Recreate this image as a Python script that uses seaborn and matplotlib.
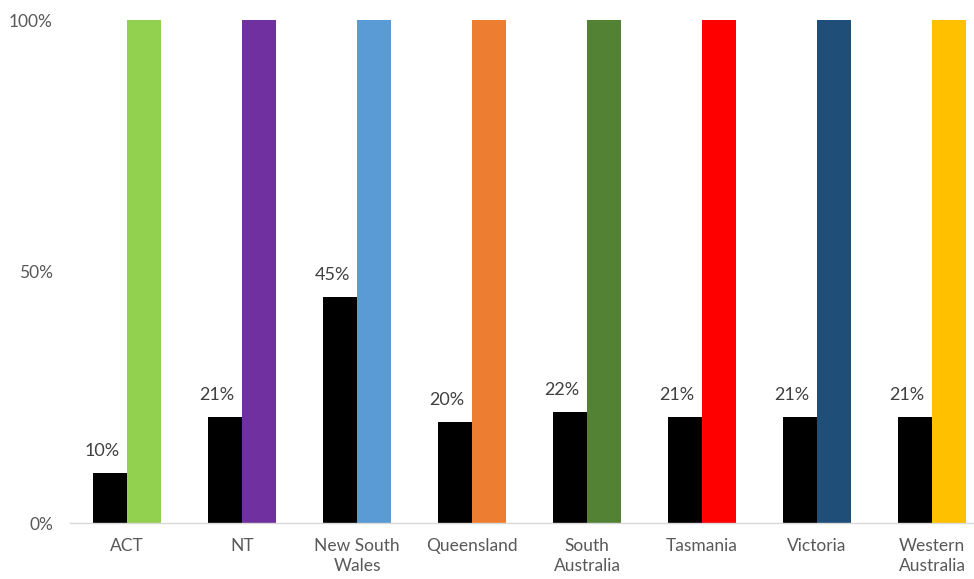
import matplotlib
matplotlib.use("Agg")
import matplotlib.pyplot as plt
import seaborn as sns
import pandas as pd

states = ["ACT", "NT", "New South\nWales", "Queensland", "South\nAustralia",
          "Tasmania", "Victoria", "Western\nAustralia"]
share = [10, 21, 45, 20, 22, 21, 21, 21]
total = [100, 100, 100, 100, 100, 100, 100, 100]
state_colors = ["#92D050", "#7030A0", "#5B9BD5", "#ED7D31", "#548235",
                "#FF0000", "#1F4E79", "#FFC000"]

df = pd.concat([
    pd.DataFrame({"state": states, "value": share, "series": "share"}),
    pd.DataFrame({"state": states, "value": total, "series": "total"}),
])

sns.set_theme(style="white")
plt.rcParams["font.family"] = ["Lato", "DejaVu Sans"]

fig = plt.figure(figsize=(9.74, 5.79), dpi=100)
ax = fig.add_axes([0.0714, 0.0967, 0.9446, 0.8687])

sns.barplot(data=df, x="state", y="value", hue="series", order=states,
            hue_order=["share", "total"], palette=["#000000", "#888888"],
            width=0.59, dodge=True, legend=False, ax=ax, saturation=1)

n = len(states)
patches = list(ax.patches)[: 2 * n]
for i, p in enumerate(patches[n:]):
    p.set_facecolor(state_colors[i])
    p.set_edgecolor("none")
for p in patches[:n]:
    p.set_edgecolor("none")

# value labels above the black bars
for i, p in enumerate(patches[:n]):
    ax.text(p.get_x() + p.get_width() / 2 - 0.07, p.get_height() + 2.8,
            f"{share[i]}%", ha="center", va="bottom", fontsize=13,
            color="#404040")

ax.set_xlim(-0.5, n - 0.5)
ax.set_ylim(0, 100)
ax.set_yticks([0, 50, 100])
ax.set_yticklabels(["0%", "50%", "100%"])
ax.set_xlabel("")
ax.set_ylabel("")
ax.tick_params(axis="y", length=0, pad=12, labelsize=12.5, labelcolor="#595959")
ax.tick_params(axis="x", length=0, pad=11, labelsize=12.5, labelcolor="#595959")
for lab in ax.get_xticklabels():
    lab.set_linespacing(1.25)
for s in ["top", "right", "left"]:
    ax.spines[s].set_visible(False)
ax.spines["bottom"].set_color("#D9D9D9")
ax.spines["bottom"].set_linewidth(1.0)
ax.spines["bottom"].set_clip_on(False)

fig.savefig("out.png", dpi=100)
